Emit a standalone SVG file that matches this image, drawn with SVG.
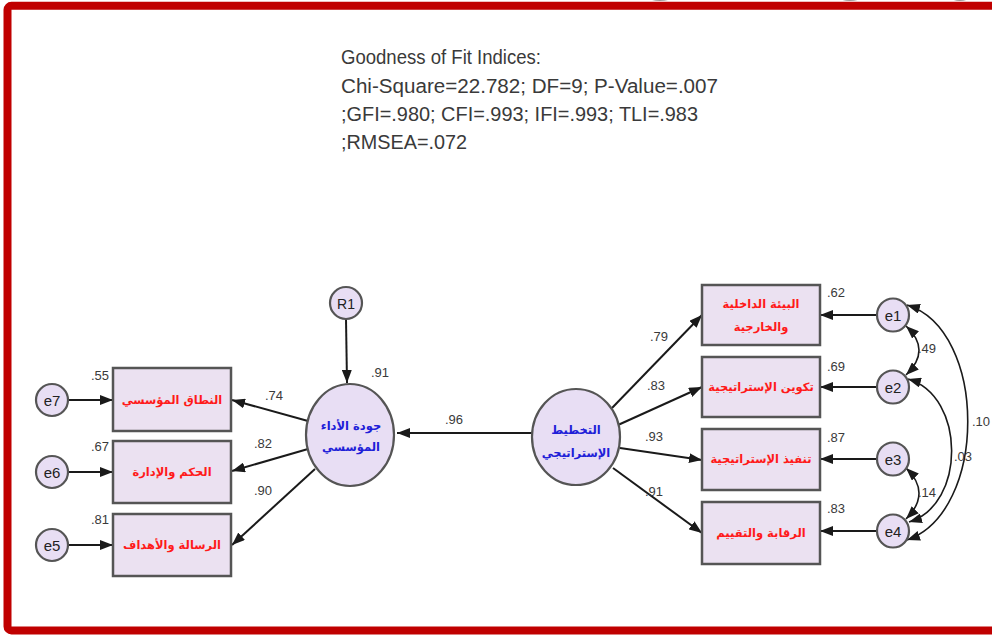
<svg xmlns="http://www.w3.org/2000/svg" width="992" height="635" viewBox="0 0 992 635">
  <defs>
    <marker id="arrow" viewBox="0 0 13 10" refX="13" refY="5" markerWidth="13" markerHeight="10" markerUnits="userSpaceOnUse" orient="auto-start-reverse">
      <path d="M0,0 L13,5 L0,10 z" fill="#1a1a1a"/>
    </marker>
    <style>
      .fit { font-family: "Liberation Sans", Arial, sans-serif; font-size: 20px; fill: #3a3a3a; }
      .num { font-family: "Liberation Sans", Arial, sans-serif; font-size: 13px; fill: #3a3a3a; }
      .var { font-family: "Liberation Sans", Arial, sans-serif; font-size: 15px; fill: #222; text-anchor: middle; }
      .box { fill: #ebe1f1; stroke: #555; stroke-width: 2.5; }
      .lat { fill: #e8def4; stroke: #555; stroke-width: 2.2; }
      .err { fill: #e8def4; stroke: #555; stroke-width: 2.2; }
      .ind { font-family: "DejaVu Sans", "Noto Sans", sans-serif; font-size: 11.5px; font-weight: bold; fill: #ff1a1a; text-anchor: middle; }
      .fac { font-family: "DejaVu Sans", "Noto Sans", sans-serif; font-size: 11.5px; font-weight: bold; fill: #2020d8; text-anchor: middle; }
      .link { fill: none; stroke: #1a1a1a; stroke-width: 2; marker-end: url(#arrow); }
      .cov { fill: none; stroke: #1a1a1a; stroke-width: 1.6; marker-start: url(#arrow); marker-end: url(#arrow); }
    </style>
  </defs>

  <rect width="992" height="635" fill="#ffffff"/>

  <!-- grey tabs peeking above the frame -->
  <g fill="#9a9a9a">
    <ellipse cx="660" cy="-9" rx="18" ry="10"/>
    <ellipse cx="850" cy="-9" rx="17" ry="10"/>
    <ellipse cx="960" cy="-9" rx="14" ry="10"/>
  </g>

  <!-- red frame -->
  <rect x="7.5" y="5.8" width="1000" height="624.6" rx="4" fill="none" stroke="#c00000" stroke-width="8"/>

  <!-- fit indices -->
  <g id="fit-indices">
    <text class="fit" x="341" y="64" textLength="200" lengthAdjust="spacingAndGlyphs">Goodness of Fit Indices:</text>
    <text class="fit" x="341" y="93" textLength="377" lengthAdjust="spacingAndGlyphs">Chi-Square=22.782; DF=9; P-Value=.007</text>
    <text class="fit" x="341" y="121" textLength="357" lengthAdjust="spacingAndGlyphs">;GFI=.980; CFI=.993; IFI=.993; TLI=.983</text>
    <text class="fit" x="341" y="149" textLength="126" lengthAdjust="spacingAndGlyphs">;RMSEA=.072</text>
  </g>

  <!-- connectors -->
  <g id="connectors">
    <!-- structural path and disturbance -->
    <path class="link" d="M532,433 L397,433"/>
    <path class="link" d="M346,319 L347,383"/>
    <!-- left loadings -->
    <path class="link" d="M308,421 L232,400"/>
    <path class="link" d="M308,449 L232,471"/>
    <path class="link" d="M315,469 L232,545"/>
    <!-- left errors -->
    <path class="link" d="M68,400 L113,400"/>
    <path class="link" d="M68,472 L113,472"/>
    <path class="link" d="M68,545 L113,545"/>
    <!-- right loadings -->
    <path class="link" d="M612,408 L702,315"/>
    <path class="link" d="M618,425 L702,387"/>
    <path class="link" d="M620,448 L702,460"/>
    <path class="link" d="M613,468 L702,533"/>
    <!-- right errors -->
    <path class="link" d="M877,315 L820,315"/>
    <path class="link" d="M877,387 L820,387"/>
    <path class="link" d="M877,459 L820,459"/>
    <path class="link" d="M877,531 L820,531"/>
    <!-- error covariances -->
    <path class="cov" d="M906,326 Q932,350 906,375"/>
    <path class="cov" d="M906,468 Q932,493 906,519"/>
    <path class="cov" d="M908,379 C966,396 966,505 909,522"/>
    <path class="cov" d="M907,305 C988,330 988,512 907,540"/>
  </g>

  <!-- coefficient labels -->
  <g id="estimates" class="num">
    <text x="371" y="377">.91</text>
    <text x="445" y="424">.96</text>
    <text x="265" y="400">.74</text>
    <text x="254" y="448">.82</text>
    <text x="254" y="495">.90</text>
    <text x="91" y="380">.55</text>
    <text x="91" y="451">.67</text>
    <text x="91" y="524">.81</text>
    <text x="650" y="341">.79</text>
    <text x="647" y="390">.83</text>
    <text x="645" y="441">.93</text>
    <text x="645" y="496">.91</text>
    <text x="827" y="297">.62</text>
    <text x="827" y="371">.69</text>
    <text x="827" y="442">.87</text>
    <text x="827" y="513">.83</text>
    <text x="918" y="353">.49</text>
    <text x="918" y="497">.14</text>
    <text x="954" y="461">.03</text>
    <text x="972" y="426">.10</text>
  </g>

  <!-- latent: institutional performance quality -->
  <g id="performance">
    <ellipse class="lat" cx="350" cy="435" rx="44" ry="51"/>
    <text class="fac" x="351" y="430">جودة الأداء</text>
    <text class="fac" x="351" y="451">المؤسسي</text>
  </g>

  <!-- latent: strategic planning -->
  <g id="planning">
    <ellipse class="lat" cx="576" cy="437" rx="44" ry="48"/>
    <text class="fac" x="576" y="434">التخطيط</text>
    <text class="fac" x="576" y="457">الإستراتيجي</text>
  </g>

  <g id="R1">
    <circle class="err" cx="346" cy="303" r="16"/>
    <text class="var" x="346" y="308.5" style="font-size:14px">R1</text>
  </g>

  <!-- left indicators -->
  <g id="scope">
    <rect class="box" x="113" y="368" width="118" height="63"/>
    <text class="ind" x="172" y="404">النطاق المؤسسي</text>
  </g>
  <g id="governance">
    <rect class="box" x="113" y="441" width="118" height="62"/>
    <text class="ind" x="172" y="476">الحكم والإدارة</text>
  </g>
  <g id="mission">
    <rect class="box" x="113" y="514" width="118" height="62"/>
    <text class="ind" x="172" y="549">الرسالة والأهداف</text>
  </g>

  <!-- right indicators -->
  <g id="environment">
    <rect class="box" x="702" y="285" width="118" height="60"/>
    <text class="ind" x="761" y="308">البيئة الداخلية</text>
    <text class="ind" x="761" y="331">والخارجية</text>
  </g>
  <g id="formulation">
    <rect class="box" x="702" y="357" width="118" height="60"/>
    <text class="ind" x="761" y="391">تكوين الإستراتيجية</text>
  </g>
  <g id="implementation">
    <rect class="box" x="702" y="429" width="118" height="61"/>
    <text class="ind" x="761" y="463">تنفيذ الإستراتيجية</text>
  </g>
  <g id="control">
    <rect class="box" x="702" y="502" width="118" height="62"/>
    <text class="ind" x="761" y="537">الرقابة والتقييم</text>
  </g>

  <!-- error terms -->
  <g id="e7"><circle class="err" cx="52" cy="400" r="16"/><text class="var" x="52" y="405.5">e7</text></g>
  <g id="e6"><circle class="err" cx="52" cy="472" r="16"/><text class="var" x="52" y="477.5">e6</text></g>
  <g id="e5"><circle class="err" cx="52" cy="545" r="16"/><text class="var" x="52" y="550.5">e5</text></g>
  <g id="e1"><ellipse class="err" cx="893" cy="315" rx="16" ry="16.5"/><text class="var" x="893" y="320.5">e1</text></g>
  <g id="e2"><ellipse class="err" cx="893" cy="387" rx="16" ry="16.5"/><text class="var" x="893" y="392.5">e2</text></g>
  <g id="e3"><ellipse class="err" cx="893" cy="459" rx="16" ry="16.5"/><text class="var" x="893" y="464.5">e3</text></g>
  <g id="e4"><ellipse class="err" cx="893" cy="531" rx="16" ry="16.5"/><text class="var" x="893" y="536.5">e4</text></g>
</svg>
